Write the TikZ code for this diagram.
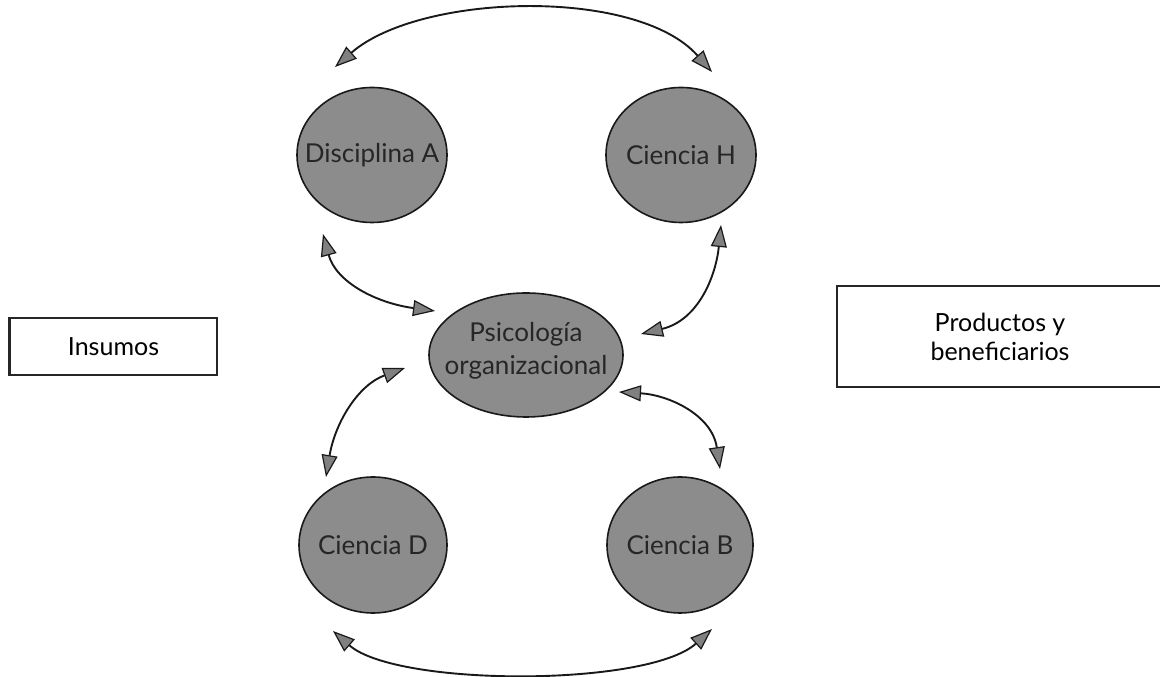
\documentclass[tikz,border=0pt]{standalone}
\usepackage{fontspec}
\setmainfont{Lato}
\usetikzlibrary{arrows.meta,shapes.geometric,calc}

\tikzset{
  headtip/.tip={Triangle[length=22pt,width=16pt,fill=black!50,line width=1.2pt]},
  disc/.style={ellipse, draw=black!90, line width=1.6pt, fill=black!45, inner sep=0pt},
  disctext/.style={text=black!85, font=\fontsize{26}{33}\selectfont, align=center, inner sep=0pt},
  labelbox/.style={draw=black!85, line width=1.4pt, font=\fontsize{25}{29}\selectfont, align=center, inner sep=0pt},
  link/.style={line width=1.9pt, draw=black!90, arrows={headtip-headtip}}
}

\begin{document}
\begin{tikzpicture}[x=1pt,y=1pt]
\path[use as bounding box] (0,0) rectangle (1160,677);
\clip (0,0) rectangle (1160,677);

% disciplines around the core field
\node[disc, minimum width=150pt, minimum height=135pt] (A) at (372,522) {};
\node[disctext] (At) at (A.center) {Disciplina A};
\node[disc, minimum width=150pt, minimum height=135pt] (H) at (681,522) {};
\node[disctext] (Ht) at (H.center) {Ciencia H};
\node[disc, minimum width=194pt, minimum height=124pt] (P) at (526,322) {};
\node[disctext] (Pt) at ([yshift=4pt]P.center) {Psicología\\organizacional};
\node[disc, minimum width=148pt, minimum height=136pt] (D) at (373,132) {};
\node[disctext] (Dt) at (D.center) {Ciencia D};
\node[disc, minimum width=146pt, minimum height=136pt] (B) at (680,132) {};
\node[disctext] (Bt) at (B.center) {Ciencia B};

% side boxes
\node[labelbox, minimum width=207pt, minimum height=57pt] (ins) at (113.5,330.5) {Insumos};
\draw[line width=2.6pt, black!85] (ins.north west) -- (ins.south west);
\node[labelbox, minimum width=326pt, minimum height=101pt] (prod) at (1000,340.5) {Productos y\\beneficiarios};

% connector end points
\coordinate (a1) at ([shift={(-37,88)}]A.center);
\coordinate (h1) at ([shift={(31,83)}]H.center);
\coordinate (d1) at ([shift={(-40,-86)}]D.center);
\coordinate (b1) at ([shift={(32,-84)}]B.center);
\coordinate (a2) at ([shift={(-49,-79)}]A.center);
\coordinate (p1) at ([shift={(-91,44)}]P.center);
\coordinate (h2) at ([shift={(40,-70)}]H.center);
\coordinate (p2) at ([shift={(115,21)}]P.center);
\coordinate (p3) at ([shift={(-121,-13)}]P.center);
\coordinate (d2) at ([shift={(-47,68)}]D.center);
\coordinate (p4) at ([shift={(93,-37)}]P.center);
\coordinate (b2) at ([shift={(40,76)}]B.center);

% two-way links
\draw[link] (a1) .. controls ($(a1)+(85,74)$) and ($(h1)+(-75,85)$) .. (h1);
\draw[link] (d1) .. controls ($(d1)+(64,-56)$) and ($(b1)+(-64,-58)$) .. (b1);
\draw[link] (a2) .. controls ($(a2)+(13,-48)$) and ($(p1)+(-59,8)$) .. (p1);
\draw[link] (h2) .. controls ($(h2)+(-5,-50)$) and ($(p2)+(58,14)$) .. (p2);
\draw[link] (p3) .. controls ($(p3)+(-47,-17)$) and ($(d2)+(9,54)$) .. (d2);
\draw[link] (p4) .. controls ($(p4)+(50,-3)$) and ($(b2)+(-8,54)$) .. (b2);
\end{tikzpicture}
\end{document}
